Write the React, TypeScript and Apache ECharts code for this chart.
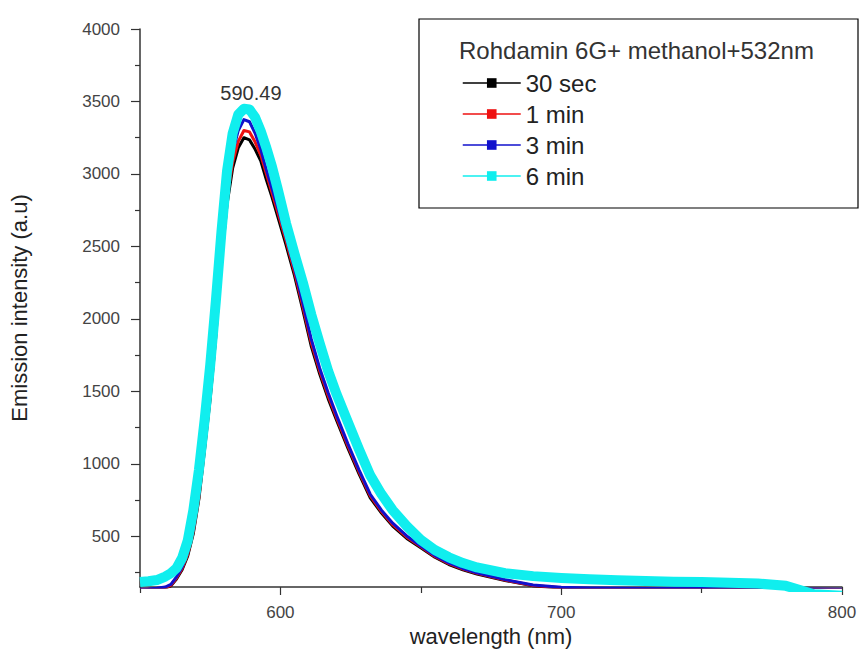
import React, { useEffect, useRef } from "react";
import * as echarts from "echarts";

// wavelength grid (nm)
const wavelengths = [
  550, 553, 556, 559, 561, 563, 565, 567, 569, 571, 573, 575, 577, 579, 581, 583, 585, 587, 589, 591,
  593, 595, 597, 599, 602, 605, 608, 611, 614, 617, 620, 624, 628, 632, 636, 640, 645, 650, 655, 660,
  665, 670, 680, 690, 700, 710, 720, 730, 740, 750, 760, 770, 780, 790, 800,
];

// emission intensity (a.u) for each exposure time
const sec30 = [
  130, 132, 135, 142, 158, 205, 270, 365, 520, 760, 1100, 1450, 1880, 2400, 2790, 3040, 3180, 3250, 3235, 3170,
  3090, 2960, 2840, 2710, 2510, 2300, 2060, 1810, 1620, 1450, 1300, 1110, 930, 765, 660, 570, 485, 420, 355, 305,
  268, 240, 195, 158, 142, 138, 136, 135, 134, 134, 133, 133, 132, 132, 131,
];
const min1 = [
  132, 134, 137, 146, 162, 212, 278, 375, 535, 775, 1125, 1470, 1905, 2430, 2830, 3080, 3225, 3300, 3290, 3220,
  3130, 3000, 2870, 2740, 2540, 2325, 2085, 1835, 1640, 1470, 1318, 1125, 945, 778, 670, 580, 494, 427, 361, 311,
  273, 244, 198, 161, 145, 140, 138, 137, 136, 136, 135, 135, 134, 134, 133,
];
const min3 = [
  135, 137, 141, 150, 168, 220, 288, 390, 555, 800, 1150, 1500, 1940, 2480, 2890, 3150, 3300, 3375, 3360, 3280,
  3170, 3030, 2900, 2770, 2565, 2350, 2110, 1860, 1660, 1490, 1335, 1140, 958, 790, 680, 590, 502, 433, 367, 316,
  278, 248, 201, 164, 148, 143, 141, 140, 139, 139, 138, 138, 137, 137, 135,
];
const min6 = [
  185, 190, 198, 222, 245, 280, 350, 470, 680, 960, 1300, 1680, 2120, 2600, 3020, 3280, 3410, 3450, 3445, 3390,
  3295, 3180, 3050, 2900, 2660, 2450, 2250, 2030, 1830, 1640, 1480, 1290, 1100, 920, 790, 680, 570, 475, 405, 355,
  315, 285, 245, 225, 212, 203, 196, 191, 187, 184, 180, 174, 158, 100, 90,
];

const seriesNames = ["30 sec", "1 min", "3 min", "6 min"];
const seriesColors = ["#000000", "#ee1111", "#1111cc", "#10eeee"];

const yMajorTicks = [500, 1000, 1500, 2000, 2500, 3000, 3500, 4000];
const yMinorTicks = [250, 750, 1250, 1750, 2250, 2750, 3250, 3750];
const xMajorTicks = [600, 700, 800];
const xMinorTicks = [550, 650, 750];

const peakLabel = "590.49";
const peakPoint = [589.5, 3450];
const legendTitle = "Rohdamin 6G+ methanol+532nm";

const FONT = 'Arial, "Liberation Sans", Helvetica, sans-serif';

export default function App() {
  const ref = useRef<HTMLDivElement>(null);

  useEffect(() => {
    if (!ref.current) return;
    const chart = echarts.init(ref.current, null, { renderer: "svg" });
    const allData = [sec30, min1, min3, min6];

    const series = allData.map((vals, i) => ({
      name: seriesNames[i],
      type: "line",
      data: wavelengths.map((w, k) => [w, vals[k]]),
      symbol: "rect",
      symbolSize: 8,
      showSymbol: false,
      clip: true,
      color: seriesColors[i],
      lineStyle: { width: i === 3 ? 10 : 3, color: seriesColors[i], join: "round" },
      z: 2 + i,
      markPoint:
        i === 3
          ? {
              symbol: "rect",
              symbolSize: 1,
              itemStyle: { color: "rgba(0,0,0,0)" },
              label: {
                show: true,
                position: "top",
                distance: 5,
                formatter: peakLabel,
                color: "#333",
                fontSize: 20,
                fontFamily: FONT,
              },
              data: [{ coord: peakPoint }],
            }
          : undefined,
    }));

    const plain = (v: number) => String(v);

    chart.setOption({
      animation: false,
      backgroundColor: "#ffffff",
      grid: { left: 133, right: 22, top: 29, bottom: 79, containLabel: false },
      xAxis: [
        {
          type: "value",
          min: 550,
          max: 800,
          name: "wavelength (nm)",
          nameLocation: "middle",
          nameGap: 33,
          nameTextStyle: { fontSize: 22, color: "#222", fontFamily: FONT },
          axisLine: { show: true, lineStyle: { color: "#333", width: 1.5 } },
          axisTick: { show: true, length: 8, customValues: xMajorTicks, lineStyle: { color: "#333", width: 1.2 } },
          axisLabel: {
            show: true,
            customValues: xMajorTicks,
            formatter: plain,
            margin: 17,
            fontSize: 17,
            color: "#444",
            fontFamily: FONT,
          },
          splitLine: { show: false },
        },
        {
          type: "value",
          min: 550,
          max: 800,
          position: "bottom",
          axisLine: { show: false },
          axisTick: { show: true, length: 6, customValues: xMinorTicks, lineStyle: { color: "#333", width: 1.2 } },
          axisLabel: { show: false },
          splitLine: { show: false },
        },
      ],
      yAxis: [
        {
          type: "value",
          min: 150,
          max: 4000,
          name: "Emission intensity (a.u)",
          nameLocation: "middle",
          nameGap: 110,
          nameRotate: 90,
          nameTextStyle: { fontSize: 22, color: "#222", fontFamily: FONT },
          axisLine: { show: true, lineStyle: { color: "#333", width: 1.5 } },
          axisTick: { show: true, length: 9, customValues: yMajorTicks, lineStyle: { color: "#333", width: 1.2 } },
          axisLabel: {
            show: true,
            customValues: yMajorTicks,
            formatter: plain,
            margin: 20,
            fontSize: 17,
            color: "#444",
            fontFamily: FONT,
          },
          splitLine: { show: false },
        },
        {
          type: "value",
          min: 150,
          max: 4000,
          position: "left",
          axisLine: { show: false },
          axisTick: { show: true, length: 5, customValues: yMinorTicks, lineStyle: { color: "#333", width: 1.2 } },
          axisLabel: { show: false },
          splitLine: { show: false },
        },
      ],
      legend: {
        show: true,
        orient: "vertical",
        left: 457,
        top: 66,
        itemWidth: 58,
        itemHeight: 12,
        itemGap: 7,
        data: seriesNames,
        lineStyle: { width: 1.5 },
        textStyle: { fontSize: 24, color: "#222", fontFamily: FONT },
      },
      graphic: [
        {
          type: "rect",
          shape: { x: 419, y: 19, width: 439, height: 189 },
          style: { fill: "#ffffff", stroke: "#000", lineWidth: 1.2 },
          z: 0,
          silent: true,
        },
        {
          type: "text",
          x: 459,
          y: 50,
          style: {
            text: legendTitle,
            fontSize: 24,
            fontFamily: FONT,
            fill: "#333",
            verticalAlign: "middle",
          },
          z: 1,
        },
      ],
      series,
    });

    return () => chart.dispose();
  }, []);

  return (
    <div
      ref={ref}
      style={{ position: "fixed", left: 0, top: 0, width: 864, height: 666, background: "#fff" }}
    />
  );
}
